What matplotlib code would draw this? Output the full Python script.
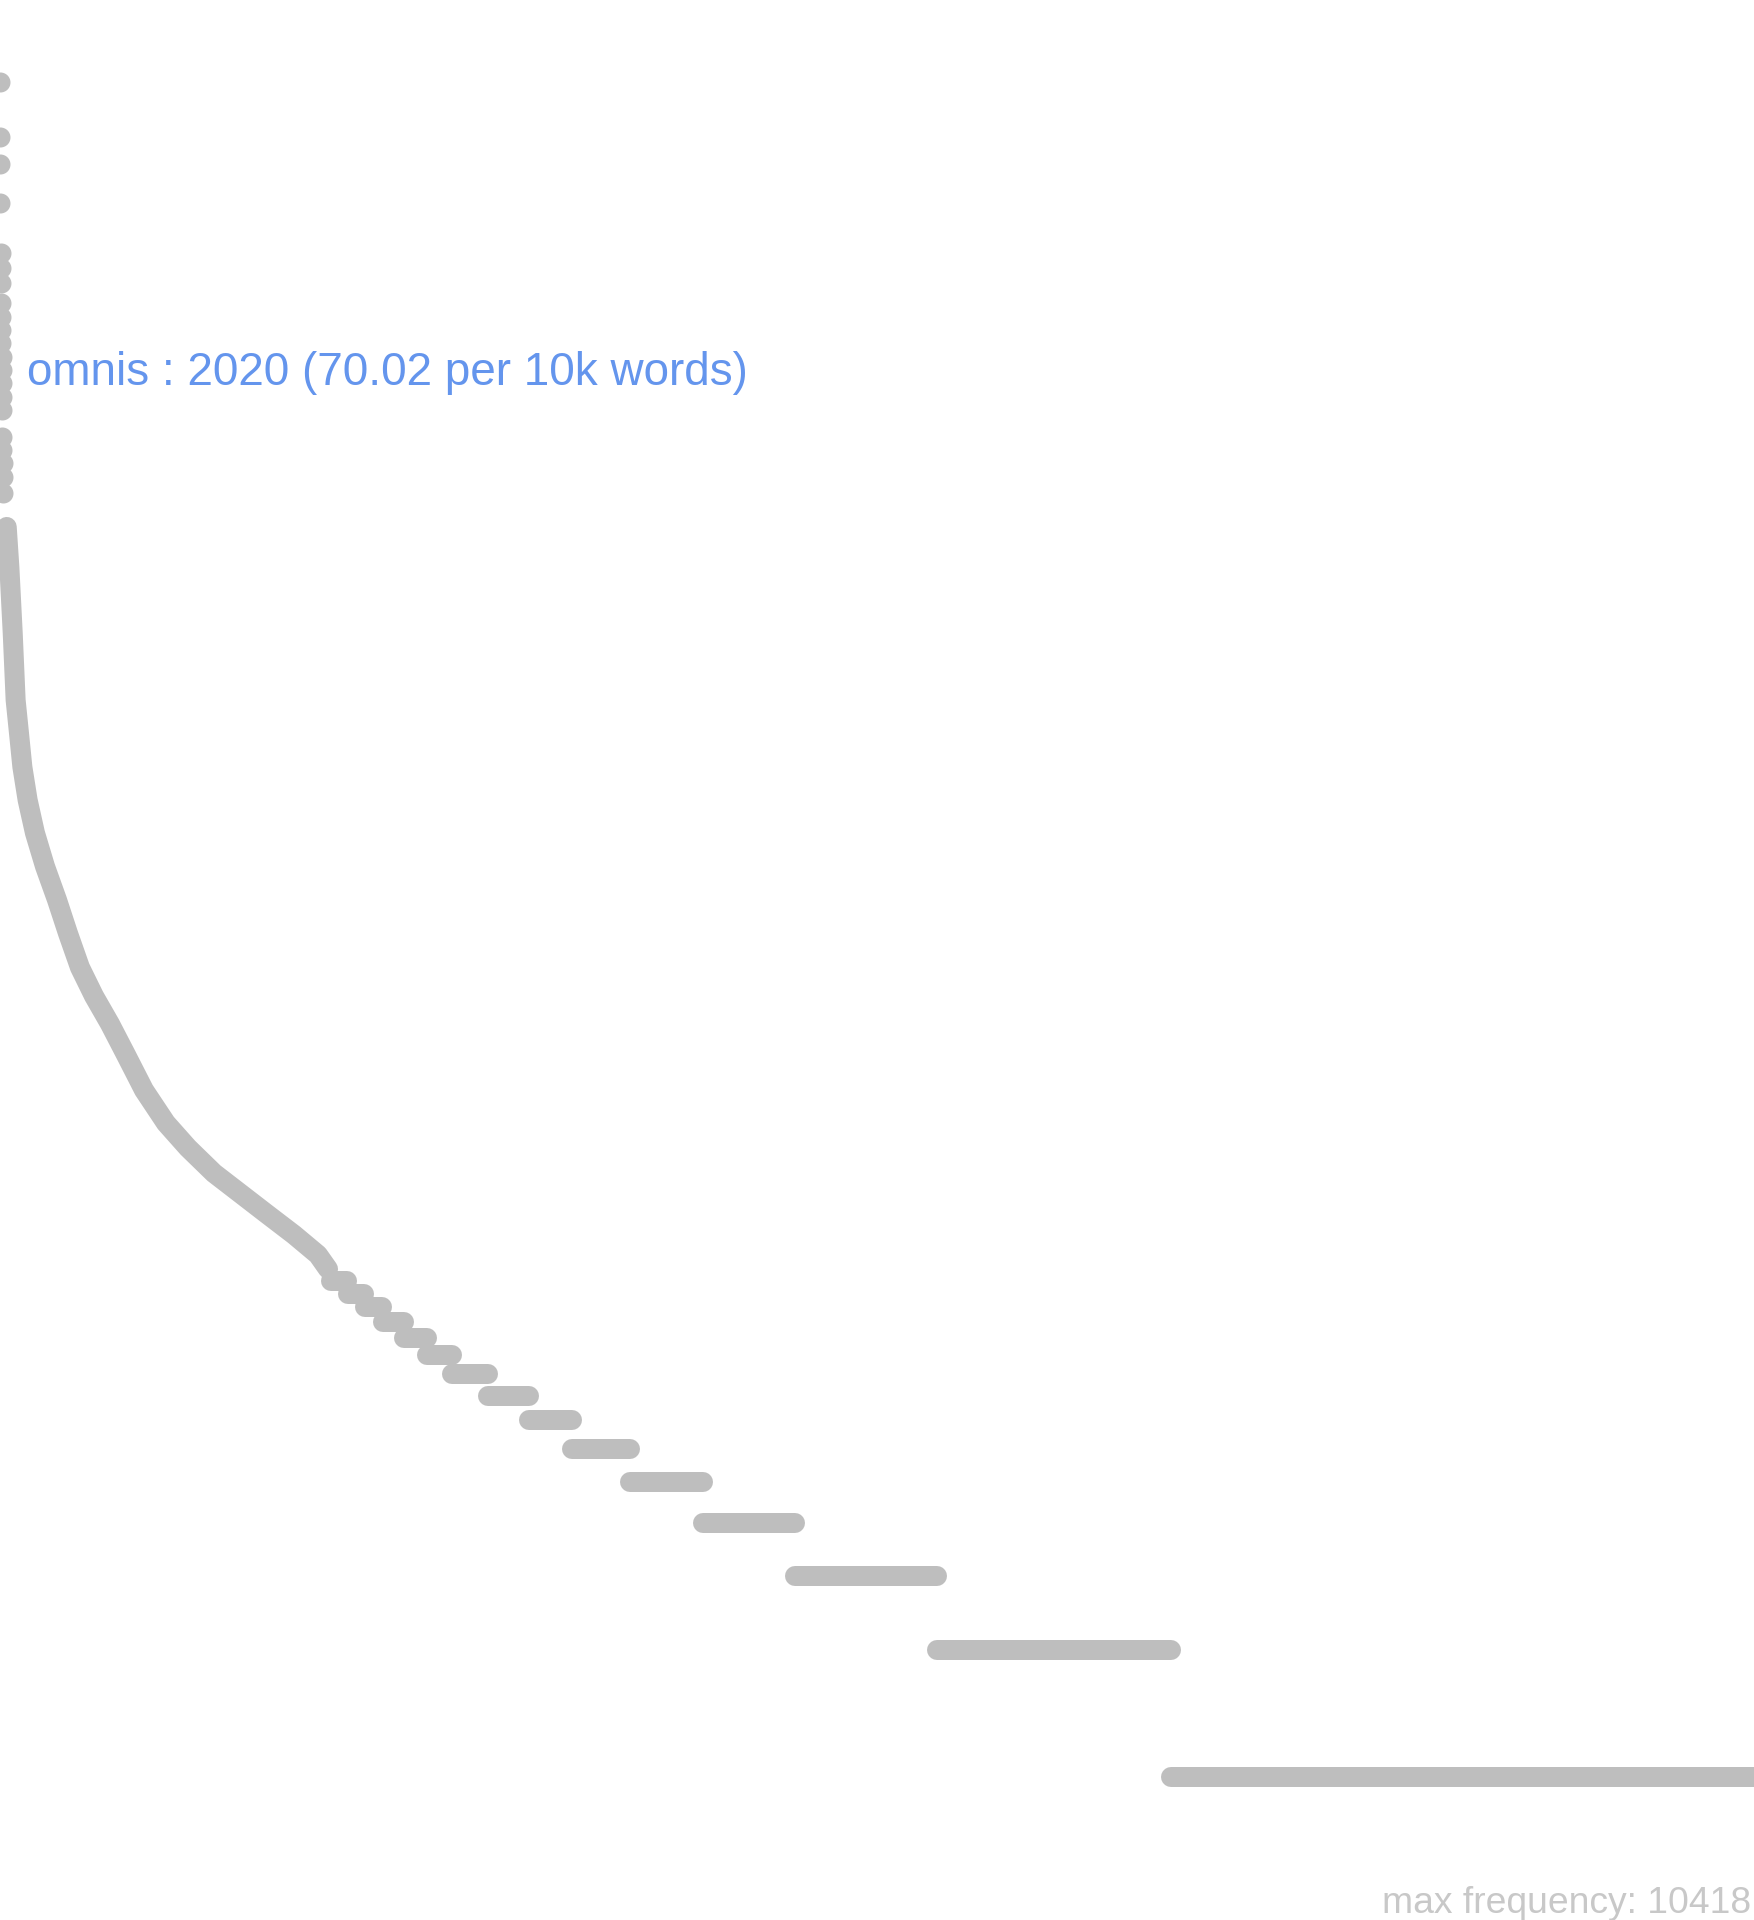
import matplotlib
matplotlib.use("Agg")
import matplotlib.pyplot as plt
import numpy as np

plt.rcParams['font.family'] = ['Liberation Sans', 'DejaVu Sans']

# total number of distinct words (x axis runs over rank 1..N)
n_words = 12000
max_freq = 10418

# most frequent words, drawn as single dots (rank, frequency)
top_ranks = [1, 2, 3, 4, 5, 6, 7, 8, 9, 10, 11, 12, 13, 14, 15, 16, 17, 18, 19, 20, 21]
top_freqs = [10418, 7710, 6650, 5375, 4100, 3775, 3478, 3122, 2889, 2690, 2506,
             2322, 2163, 2020, 1869, 1741, 1502, 1398, 1303, 1206, 1106]

# readings along the dense part of the curve (rank, frequency)
curve_ranks = [47, 65, 88, 108, 131, 154, 190, 240, 309, 391, 466, 548, 644, 753,
               863, 986, 1136, 1287, 1465, 1643, 1820, 2012, 2176, 2245]
curve_freqs = [919, 739, 515, 357, 298, 248, 207, 173, 144, 120, 100, 83, 71, 61,
               51.5, 42.5, 35.5, 31, 27, 24.2, 21.7, 19.3, 17.3, 16]

# low frequencies: how many words occur exactly f times
step_freqs = [15, 14, 13, 12, 11, 10, 9, 8, 7, 6, 5, 4, 3, 2, 1]
step_counts = [116, 116, 123, 150, 157, 171, 246, 280, 294, 397, 499, 629, 971, 1601, 3988]

label_word = "omnis"
label_freq = 2020
label_rank = 14
label_per10k = 70.02

grey = '#bebebe'
lw = 14.4  # points, ~20 px dots

fig = plt.figure(figsize=(17.54, 19.2), dpi=100)
ax = fig.add_axes([0, 0, 1, 1])
ax.set_yscale('log')
ax.set_xlim(1, n_words)
ax.set_ylim(0.4581, 16312)
ax.axis('off')

ax.plot(top_ranks, top_freqs, 'o', color=grey, markersize=lw, markeredgewidth=0)
ax.plot(curve_ranks, curve_freqs, '-', color=grey, linewidth=lw,
        solid_capstyle='round', solid_joinstyle='round')

start = n_words - sum(step_counts) + 1
for f, c in zip(step_freqs, step_counts):
    ax.plot([start, start + c - 1], [f, f], '-', color=grey, linewidth=lw,
            solid_capstyle='round')
    start += c

ax.annotate(f"{label_word} : {label_freq} ({label_per10k:.2f} per 10k words)",
            xy=(label_rank, label_freq), xytext=(25, 10), textcoords='offset pixels',
            ha='left', va='center', fontsize=33, color='#6495ed')

fig.text(1751 / 1754, 7 / 1920, f"max frequency: {max_freq}", ha='right',
         va='baseline', fontsize=26.8, color='#c8c8c8')

fig.savefig('out.png', dpi=100)
